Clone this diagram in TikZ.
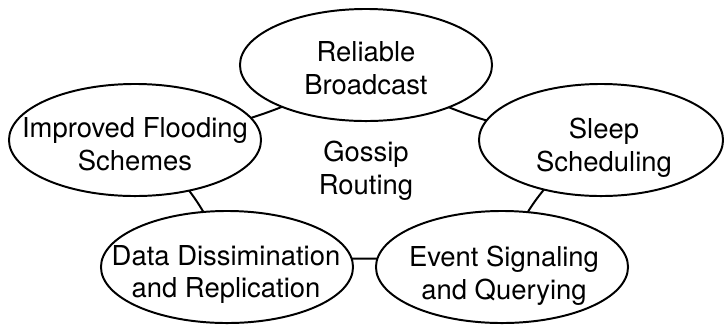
\documentclass[tikz,border=0pt]{standalone}
\usepackage{fontspec}
\setmainfont{TeX Gyre Heros}
\usetikzlibrary{shapes.geometric, backgrounds}

\begin{document}
\begin{tikzpicture}[
  x=0.025cm, y=-0.025cm,
  oval/.style={draw, ellipse, fill=white, line width=1.4pt,
               minimum width=6.3cm, minimum height=2.8cm, inner sep=0pt},
  txt/.style={align=center, inner sep=0pt,
              font=\fontsize{19.5}{23.4}\selectfont},
  ring/.style={line width=1.4pt}
]
\useasboundingbox (0,0) rectangle (724,325);

% Topics
\node[oval]                     (rel)   at (366,65)  {};
\node[oval]                     (flood) at (135,140) {};
\node[oval, minimum width=6.1cm] (sleep) at (601,140) {};
\node[oval]                     (data)  at (227,267) {};
\node[oval]                     (event) at (502,267) {};

\node[txt] (relT)   at (366,68.5)  {Reliable\\Broadcast};
\node[txt] (floodT) at (135,144)   {Improved Flooding\\Schemes};
\node[txt] (sleepT) at (604,148)   {Sleep\\Scheduling};
\node[txt] (dataT)  at (226,274.5) {Data Dissimination\\and Replication};
\node[txt] (eventT) at (504,275.5) {Event Signaling\\and Querying};
\node[txt] (gossip) at (366,171)   {Gossip\\Routing};

% Ring behind the topics
\begin{scope}[on background layer]
\draw[ring] (rel.center)   to[bend left=12] (flood.center);
\draw[ring] (flood.center) to[bend left=18] (data.center);
\draw[ring] (data.center)  to[bend left=6]  (event.center);
\draw[ring] (event.center) to[bend left=18] (sleep.center);
\draw[ring] (sleep.center) to[bend left=13] (rel.center);
\end{scope}
\end{tikzpicture}
\end{document}
